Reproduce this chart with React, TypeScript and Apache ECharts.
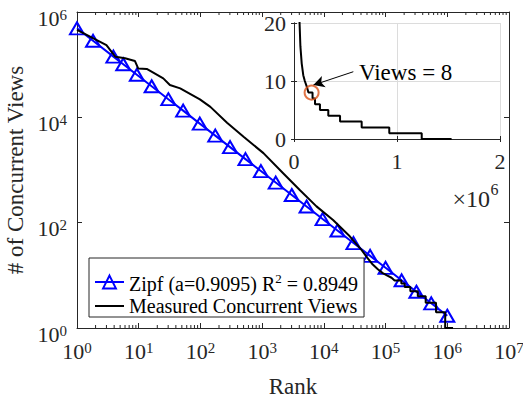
import React, { useEffect, useRef } from 'react';
import * as echarts from 'echarts';

// ---- data ----
const zipfName = 'Zipf (a=0.9095) R2 = 0.8949';
const measuredName = 'Measured Concurrent Views';

const zipfRank = [1, 1.82, 3.89, 5.62, 9.33, 16.2, 30.2, 52.5, 97.7, 174, 302, 537, 955, 1660, 3020, 5250, 9550, 16600, 30200, 56200, 100000, 182000, 316000, 550000, 1000000];
const zipfViews = [490000, 284000, 142000, 102000, 64300, 38900, 22100, 13400, 7590, 4500, 2720, 1610, 955, 577, 335, 203, 117, 71, 41, 23.4, 13.9, 8.05, 4.88, 2.94, 1.71];

const measuredRank = [1, 3, 4.2, 6, 8.7, 9.8, 13.5, 25, 32, 47, 98, 145, 270, 500, 1050, 2190, 4070, 7590, 14100, 26300, 41000, 50000, 62000, 75000, 90000, 105000, 125000, 140000, 180000, 180000, 204000, 204000, 252000, 252000, 333000, 333000, 447000, 447000, 657000, 657000, 925000, 925000, 1240000, 1240000, 1530000];
const measuredViews = [460000, 234000, 141000, 132000, 117000, 85000, 83000, 55000, 41000, 35500, 21900, 15800, 7900, 4270, 2090, 870, 417, 204, 112, 55, 30, 22, 16, 13, 11, 10, 9, 8, 8, 7, 7, 6, 6, 5, 5, 4, 4, 3, 3, 2, 2, 1, 1, 0, 0];

const markedRank = [171000];
const markedViews = [8];
const arrowFrom = [576000, 11.6];
const arrowTo = [188000, 9.3];
const annotationText = 'Views = 8';

const FONT = "'Liberation Serif', 'Times New Roman', Times, serif";
const AX = '#262626';

const supRich = {
  b: { fontFamily: FONT, fontSize: 22, lineHeight: 22, padding: [12, 0, 0, 0], color: AX },
  s: { fontFamily: FONT, fontSize: 15, lineHeight: 15, verticalAlign: 'top', padding: [6, 0, 0, 0], color: AX },
};

const pow10 = (v: number) => `{b|10}{s|${Math.round(Math.log10(v))}}`;

const minorTicks: number[] = [];
for (let e = 0; e < 7; e++) for (let m = 2; m <= 9; m++) minorTicks.push(m * Math.pow(10, e));

export default function App() {
  const ref = useRef<HTMLDivElement>(null);
  useEffect(() => {
    if (!ref.current) return;
    const chart = echarts.init(ref.current, undefined, { renderer: 'svg' });
    const axLine = { show: true, lineStyle: { color: AX, width: 1 } };
    const tickIn = (len: number) => ({ show: true, inside: true, length: len, lineStyle: { color: AX, width: 1 } });
    const option: any = {
      animation: false,
      backgroundColor: '#fff',
      grid: [
        { left: 77, top: 12, width: 432, height: 316, outerBoundsMode: 'none', containLabel: false },
        { left: 294, top: 23, width: 206, height: 116, show: true, backgroundColor: '#fff', borderWidth: 0, outerBoundsMode: 'none', containLabel: false },
      ],
      xAxis: [
        {
          gridIndex: 0, type: 'log', min: 1, max: 1e7, interval: 1, position: 'bottom',
          axisLine: axLine, axisTick: tickIn(5), splitLine: { show: false },
          axisLabel: { formatter: pow10, rich: supRich, margin: 6, color: AX, fontFamily: FONT },
          name: 'Rank', nameLocation: 'middle', nameGap: 47,
          nameTextStyle: { fontFamily: FONT, fontSize: 23, color: AX },
        },
        {
          gridIndex: 0, type: 'log', min: 1, max: 1e7, interval: 1, position: 'top',
          axisLine: axLine, axisTick: tickIn(5), splitLine: { show: false }, axisLabel: { show: false },
        },
        {
          gridIndex: 1, type: 'value', min: 0, max: 2e6, interval: 1e6, position: 'bottom',
          axisLine: axLine, axisTick: tickIn(3),
          splitLine: { show: true, lineStyle: { color: '#dcdcdc', width: 1 } },
          axisLabel: { formatter: (v: number) => String(v / 1e6), margin: 11, fontFamily: FONT, fontSize: 22, color: AX },
        },
        {
          gridIndex: 1, type: 'value', min: 0, max: 2e6, interval: 1e6, position: 'top',
          axisLine: axLine, axisTick: tickIn(3), splitLine: { show: false }, axisLabel: { show: false },
        },
      ],
      yAxis: [
        {
          gridIndex: 0, type: 'log', min: 1, max: 1e6, interval: 2, position: 'left',
          axisLine: axLine, axisTick: tickIn(5), splitLine: { show: false },
          axisLabel: { formatter: pow10, rich: supRich, margin: 10, color: AX, fontFamily: FONT },
          name: '# of Concurrent Views', nameLocation: 'middle', nameGap: 47,
          nameTextStyle: { fontFamily: FONT, fontSize: 23, color: AX },
        },
        {
          gridIndex: 0, type: 'log', min: 1, max: 1e6, interval: 2, position: 'right',
          axisLine: axLine, axisTick: tickIn(5), splitLine: { show: false }, axisLabel: { show: false },
        },
        {
          gridIndex: 1, type: 'value', min: 0, max: 20, interval: 10, position: 'left',
          axisLine: axLine, axisTick: tickIn(3),
          splitLine: { show: true, lineStyle: { color: '#dcdcdc', width: 1 } },
          axisLabel: { margin: 8, fontFamily: FONT, fontSize: 22, color: AX },
        },
        {
          gridIndex: 1, type: 'value', min: 0, max: 20, interval: 10, position: 'right',
          axisLine: axLine, axisTick: tickIn(3), splitLine: { show: false }, axisLabel: { show: false },
        },
      ],
      legend: {
        orient: 'vertical', left: 89, top: 258,
        padding: [12, 6, 1, 5], itemGap: 2, itemWidth: 29, itemHeight: 16,
        backgroundColor: '#fff', borderColor: AX, borderWidth: 1, borderRadius: 0,
        selectedMode: false,
        data: [
          { name: zipfName },
          { name: measuredName, itemStyle: { opacity: 0 } },
        ],
        formatter: (name: string) =>
          name === zipfName ? '{t|Zipf (a=0.9095) R}{s|2}{t| = 0.8949}' : '{u|Measured Concurrent Views}',
        textStyle: {
          fontFamily: FONT, fontSize: 20, color: '#000',
          rich: {
            t: { fontFamily: FONT, fontSize: 20, lineHeight: 20, padding: [4, 0, 0, 0], color: '#000' },
            s: { fontFamily: FONT, fontSize: 13, lineHeight: 13, verticalAlign: 'top', color: '#000' },
            u: { fontFamily: FONT, fontSize: 20, lineHeight: 20, color: '#000' },
          },
        },
      },
      graphic: [
        {
          type: 'text', x: 359, y: 72, z: 100,
          style: { text: annotationText, fontFamily: FONT, fontSize: 23, fill: '#000', verticalAlign: 'middle', textVerticalAlign: 'middle' },
        },
        {
          type: 'text', x: 490, y: 199, z: 100,
          style: { text: '\u00d710', fontFamily: FONT, fontSize: 24, fill: AX, align: 'right', textAlign: 'right', verticalAlign: 'middle', textVerticalAlign: 'middle' },
        },
        {
          type: 'text', x: 490.5, y: 189, z: 100,
          style: { text: '6', fontFamily: FONT, fontSize: 16, fill: AX, align: 'left', textAlign: 'left', verticalAlign: 'middle', textVerticalAlign: 'middle' },
        },
      ],
      series: [
        {
          type: 'line', name: zipfName, xAxisIndex: 0, yAxisIndex: 0,
          data: zipfRank.map((r, i) => [r, zipfViews[i]]),
          symbol: 'triangle', symbolSize: [14, 12], showSymbol: true, showAllSymbol: true,
          lineStyle: { color: '#0000ff', width: 2 },
          itemStyle: { color: 'rgba(0,0,0,0)', borderColor: '#0000ff', borderWidth: 2 },
          z: 2,
        },
        {
          type: 'line', name: measuredName, xAxisIndex: 0, yAxisIndex: 0,
          data: measuredRank.map((r, i) => [r, measuredViews[i]]).filter((d) => d[1] > 0),
          symbol: 'none', lineStyle: { color: '#000', width: 2 }, itemStyle: { color: '#000' },
          z: 3,
        },
        {
          type: 'custom', name: 'minorTicks', xAxisIndex: 0, yAxisIndex: 0, silent: true, clip: false, z: 4,
          data: minorTicks.map((v) => [v, 1]),
          renderItem: (params: any, api: any) => {
            const x = api.coord([api.value(0), 1])[0];
            const cs = params.coordSys;
            const yb = cs.y + cs.height;
            const yt = cs.y;
            return {
              type: 'group',
              children: [
                { type: 'line', shape: { x1: x, y1: yb, x2: x, y2: yb - 3 }, style: { stroke: AX, lineWidth: 1 } },
                { type: 'line', shape: { x1: x, y1: yt, x2: x, y2: yt + 3 }, style: { stroke: AX, lineWidth: 1 } },
              ],
            };
          },
        },
        {
          type: 'line', name: 'insetMeasured', xAxisIndex: 2, yAxisIndex: 2,
          data: measuredRank.map((r, i) => [r, measuredViews[i]]),
          symbol: 'none', clip: true, lineStyle: { color: '#000', width: 2 }, itemStyle: { color: '#000' },
          z: 5,
        },
        {
          type: 'scatter', name: 'marked', xAxisIndex: 2, yAxisIndex: 2,
          data: markedRank.map((r, i) => [r, markedViews[i]]),
          symbol: 'circle', symbolSize: 14,
          itemStyle: { color: 'rgba(0,0,0,0)', borderColor: '#D95319', borderWidth: 2 },
          z: 6,
          markLine: {
            silent: true, symbol: ['none', 'arrow'], symbolSize: [9, 11],
            label: { show: false },
            lineStyle: { color: '#000', width: 1, type: 'solid' },
            data: [[{ coord: arrowFrom }, { coord: arrowTo }]],
          },
        },
      ],
    };
    chart.setOption(option);
    return () => chart.dispose();
  }, []);
  return <div ref={ref} style={{ position: 'absolute', left: 0, top: 0, width: 523, height: 402 }} />;
}
